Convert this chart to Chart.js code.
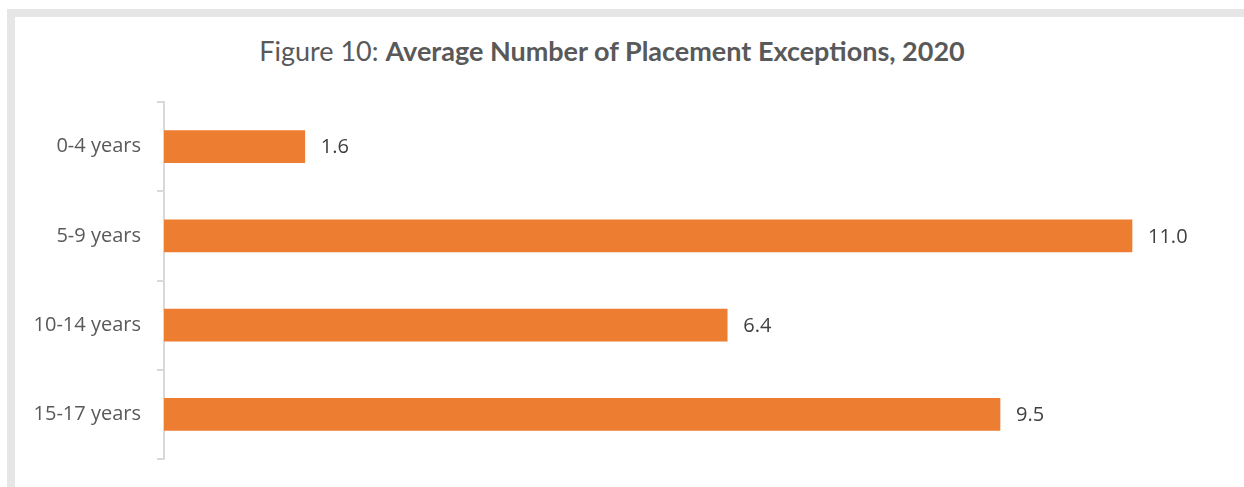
<!DOCTYPE html>
<html>
<head>
<meta charset="utf-8">
<script src="https://cdn.jsdelivr.net/npm/chart.js@4"></script>
<style>
    html, body { margin: 0; padding: 0; background: #fff; overflow: hidden; }
    body { width: 1244px; height: 487px; position: relative; font-family: Lato, "Open Sans", sans-serif; }
    .frame-top { position: absolute; left: 7px; top: 9px; width: 1237px; height: 8px; background: #e6e6e6; }
    .frame-left { position: absolute; left: 7px; top: 9px; width: 8px; height: 478px; background: #e6e6e6; }
    .title {
        position: absolute; left: 0; width: 1224px; top: 34px;
        text-align: center; font-size: 27px; color: #595959;
    }
    .title b { font-weight: 700; }
    #exceptionsChart { position: absolute; left: 0; top: 0; }
</style>
</head>
<body>
<div class="frame-top"></div>
<div class="frame-left"></div>
<div class="title">Figure 10: <b>Average Number of Placement Exceptions, 2020</b></div>
<canvas id="exceptionsChart" width="1244" height="487"></canvas>
<script>
const ageGroups = ['0-4 years', '5-9 years', '10-14 years', '15-17 years'];
const avgExceptions = [1.6, 11.0, 6.4, 9.5];

const labelFont = '"Open Sans", Lato, sans-serif';

// value labels at the end of each bar
const barValueLabels = {
    id: 'barValueLabels',
    afterDatasetsDraw(chart) {
        const ctx = chart.ctx;
        const meta = chart.getDatasetMeta(0);
        ctx.save();
        ctx.font = '20px ' + labelFont;
        ctx.fillStyle = '#404040';
        ctx.textAlign = 'left';
        ctx.textBaseline = 'middle';
        meta.data.forEach((bar, i) => {
            ctx.fillText(avgExceptions[i].toFixed(1), bar.x + 16, bar.y + 1);
        });
        ctx.restore();
    }
};

const ctx = document.getElementById('exceptionsChart').getContext('2d');
new Chart(ctx, {
    type: 'bar',
    data: {
        labels: ageGroups,
        datasets: [{
            label: 'Average Number of Placement Exceptions',
            data: avgExceptions,
            backgroundColor: '#ED7D31',
            borderWidth: 0,
            barThickness: 32
        }]
    },
    options: {
        indexAxis: 'y',
        responsive: false,
        animation: false,
        layout: { padding: { top: 102, bottom: 25, right: 24, left: 0 } },
        plugins: {
            legend: { display: false },
            tooltip: { enabled: false }
        },
        scales: {
            x: {
                display: false,
                min: 0,
                max: 12
            },
            y: {
                afterFit(scale) { scale.width = 164; },
                grid: {
                    offset: true,
                    drawOnChartArea: false,
                    drawTicks: true,
                    tickLength: 7,
                    color: '#d9d9d9',
                    lineWidth: 2
                },
                border: { display: true, color: '#d9d9d9', width: 2 },
                ticks: {
                    color: '#595959',
                    padding: 16,
                    font: { family: labelFont, size: 20 }
                }
            }
        }
    },
    plugins: [barValueLabels]
});
</script>
</body>
</html>
